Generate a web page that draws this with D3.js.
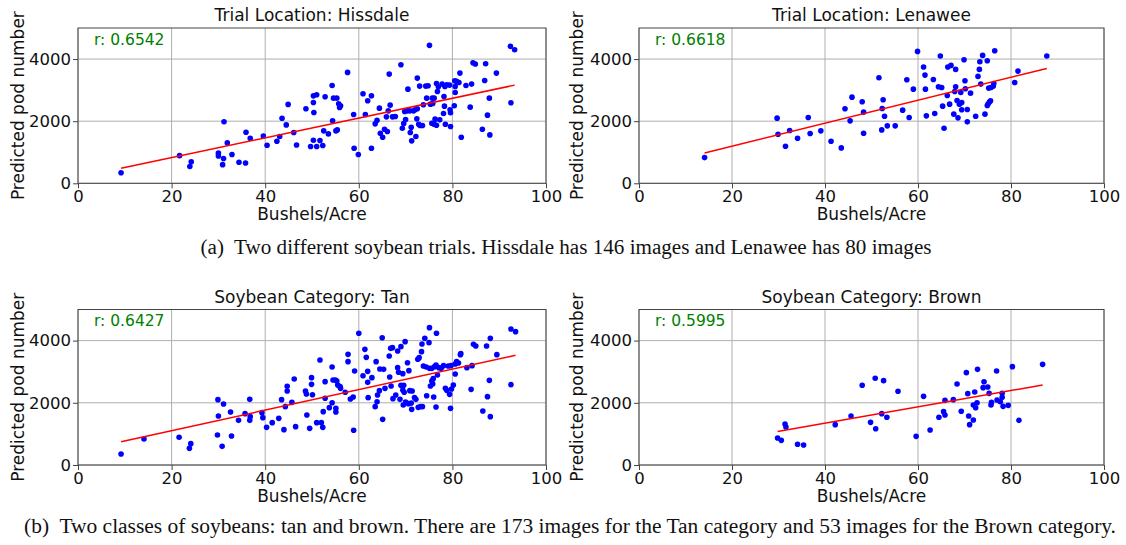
<!DOCTYPE html>
<html><head><meta charset="utf-8">
<script src="https://cdn.jsdelivr.net/npm/d3@7"></script>
<style>body{margin:0;background:#fff}svg{display:block}</style>
</head><body><svg id="c" width="1126" height="545"></svg>
<script>
// ---------- DATA ----------
const xTicks = [0, 20, 40, 60, 80, 100];
const yTicks = [0, 2000, 4000];
const titles = ["Trial Location: Hissdale", "Trial Location: Lenawee", "Soybean Category: Tan", "Soybean Category: Brown"];
const rValues = ["0.6542", "0.6618", "0.6427", "0.5995"];
const fitSlope = [31.83, 36.97, 32.93, 26.27];
const fitIntercept = [191, 457, 447, 292];
const captions = [
  "(a)  Two different soybean trials. Hissdale has 146 images and Lenawee has 80 images",
  "(b)  Two classes of soybeans: tan and brown. There are 173 images for the Tan category and 53 images for the Brown category."
];
const hissdale = [
[9.2,340],[21.7,890],[23.9,540],[24.2,690],[30.0,970],[30.0,880],[31.1,800],[30.9,600],[31.2,1980],[31.9,1300],
[32.9,925],[34.4,680],[35.8,655],[35.9,1645],[36.8,1450],[39.6,1525],[40.4,1225],[42.5,1355],[43.1,1505],[43.6,2095],
[44.5,1880],[44.9,2540],[46.1,1635],[46.7,1235],[48.7,2400],[49.7,1185],[50.3,2815],[50.3,2600],[50.4,2280],[50.3,1385],
[51.0,2849],[51.0,1183],[51.7,1376],[52.3,1215],[52.5,1688],[52.8,2785],[53.5,1591],[54.3,3151],[54.4,2011],[54.6,2742],
[55.3,2742],[55.1,1688],[55.4,1720],[55.7,2559],[56.1,2495],[55.9,2441],[57.6,3570],[58.9,2215],[59.0,1129],[59.9,925],
[60.9,2882],[61.4,2215],[61.9,2656],[62.7,1129],[62.7,2817],[63.5,1914],[63.9,2032],[64.4,2419],[64.6,1613],[65.1,1484],
[65.5,1742],[65.9,2140],[66.1,1667],[66.3,2333],[66.5,3516],[66.7,2516],[67.2,2140],[67.8,2151],[69.0,3817],[69.3,1774],
[69.6,1925],[69.8,2312],[70.0,2054],[70.3,2333],[70.5,3032],[70.9,2333],[71.0,1634],[71.2,1806],[71.3,1366],[71.7,2333],
[72.0,2366],[72.2,1505],[72.4,2075],[72.5,3387],[72.5,2398],[72.8,1903],[73.0,3129],[73.1,1860],[73.6,1860],[73.8,2527],
[74.3,3129],[74.5,2742],[74.8,3140],[75.1,4441],[75.3,2548],[75.6,1935],[75.7,2742],[75.8,2570],[76.1,2742],[76.1,1903],
[76.3,2065],[76.6,1871],[76.6,3215],[76.8,2957],[77.0,3108],[77.3,2043],[77.8,3194],[78.1,2247],[78.2,2796],[78.3,2484],
[78.4,3118],[78.5,1903],[78.8,3172],[79.4,3161],[79.5,2366],[79.6,1828],[79.6,2269],[80.4,2495],[80.5,3301],[80.6,3118],
[80.6,2925],[80.9,3280],[81.4,3247],[81.6,3548],[81.9,1484],[82.9,3151],[83.8,2452],[84.1,3194],[84.4,3882],[84.9,3839],
[86.4,1742],[86.9,3312],[87.1,3849],[87.5,2194],[87.9,2742],[88.0,1559],[89.4,3548],[92.4,4409],[92.5,2591],[93.3,4301]
];
const lenawee = [
[14.1,828],[29.7,2097],[29.9,1581],[31.5,1194],[32.4,1699],[34.1,1452],[36.4,2118],[36.8,1602],[39.1,1688],[41.3,1355],
[43.5,1140],[44.3,2398],[45.4,2011],[45.8,2774],[48.0,2624],[48.3,2290],[48.3,1613],[51.6,3398],[52.2,1720],[52.3,2409],
[52.5,2688],[52.8,2161],[53.4,1849],[55.1,1849],[56.7,2355],[57.6,3333],[58.1,2118],[59.0,3032],[59.9,4247],[61.2,3742],
[61.5,3484],[61.6,3032],[61.8,2172],[63.3,3344],[63.6,2247],[64.4,3108],[64.8,4097],[65.1,3086],[65.3,2484],[65.6,1774],
[66.3,2828],[66.4,3742],[66.8,2548],[67.1,3796],[67.7,2226],[67.9,2957],[68.1,3667],[68.1,3108],[68.4,2667],[68.6,2108],
[68.9,2548],[69.2,2925],[69.4,2602],[69.4,2366],[69.9,3978],[70.1,3301],[70.2,3043],[70.6,2376],[70.6,1978],[71.3,2903],
[72.4,2161],[72.9,3441],[73.2,3667],[73.3,3914],[73.5,3194],[73.9,4118],[74.4,2226],[74.9,3946],[74.9,2505],[75.1,2559],
[75.2,3065],[75.4,2624],[75.6,2656],[75.7,3086],[76.2,3129],[76.3,3215],[76.5,4269],[80.8,3247],[81.5,3613],[87.7,4097]
];
const tan = [
[9.2,354],[14.1,836],[21.6,890],[23.8,536],[24.1,686],[29.9,2101],[30.0,1576],[29.8,965],[30.8,600],[31.1,1961],
[32.6,1704],[32.8,932],[34.3,1436],[35.7,1651],[36.7,2111],[36.7,1436],[36.8,1554],[39.3,1683],[39.5,1522],[40.3,1211],
[41.5,1361],[42.9,1500],[43.5,2101],[44.0,1136],[44.3,1876],[44.7,2529],[44.7,2379],[45.7,2015],[46.2,2765],[46.5,1233],
[48.6,2379],[48.8,2283],[48.9,1608],[49.5,1179],[49.9,2808],[49.9,2594],[50.1,2261],
[51.0,1361],[51.7,3376],[52.0,1361],[52.3,1211],[52.4,1715],[52.8,2680],[52.8,2144],[53.7,1844],[54.3,3151],[54.3,2004],
[54.5,2733],[55.0,2733],[55.1,1704],[55.1,1822],[55.3,2701],[55.5,2572],[56.0,2519],[56.1,2465],[57.1,2337],[57.7,3558],
[57.7,3323],[58.2,2122],[58.8,2186],[58.9,1115],[59.1,3022],[60.0,4234],[60.9,2872],[61.3,3719],[61.6,3462],[61.9,3012],
[61.9,2658],[62.0,2165],[62.8,2808],[63.5,1876],[63.7,3323],[63.9,2036],[64.0,2251],[64.4,2390],[64.5,3087],[65.0,4094],
[65.1,1468],[65.3,3076],[65.6,2465],[66.5,3505],[66.6,2830],[66.8,3751],[66.9,2540],[67.2,3773],[67.3,2133],[67.9,2251],
[68.3,3130],[68.3,3666],[68.5,2980],[68.8,2111],[69.0,3805],[69.0,2562],[69.4,2937],[69.4,2412],[69.5,1929],[69.6,2562],
[69.7,2337],[69.9,3966],[70.0,2026],[70.4,3290],[70.6,1972],[70.7,3033],[70.9,2390],[71.2,1994],[71.3,1790],[71.4,2379],
[71.9,2165],[72.2,2111],[72.6,3398],[72.7,1854],[72.9,3451],[73.2,1876],[73.4,3644],[73.5,3891],[73.6,1876],[73.8,3183],
[74.1,4073],[74.4,3151],[74.5,2229],[75.0,3934],[75.1,4416],[75.1,3108],[75.3,2540],[75.6,2701],[75.6,3108],[75.8,2604],
[75.9,2776],[76.0,2186],[76.2,3162],[76.5,1865],[76.5,3215],[76.6,4234],[76.8,2894],[77.1,3130],[77.6,3108],[78.1,3194],
[78.5,2465],[78.8,2401],[79.1,3183],[79.4,2272],[79.6,1822],[79.7,3194],[79.8,2444],[80.2,2572],[80.6,3247],[80.6,2926],
[80.9,3323],[81.3,3280],[81.7,3548],[81.8,3580],[83.1,3130],[84.0,2433],[84.2,3194],[84.5,3880],[85.0,3826],[86.5,1736],
[87.3,3826],[87.5,2197],[87.9,2722],[88.1,4073],[88.1,1554],[89.5,3548],[92.5,2583],[92.5,4373],[93.5,4287]
];
const brown = [
[29.8,868],[30.6,793],[31.4,1318],[31.6,1222],[34.1,665],[35.4,643],[42.2,1297],[45.6,1576],[48.0,2562],[49.8,1372],
[50.8,2787],[50.9,1168],[52.2,1651],[52.6,2712],[53.3,1533],[55.7,2369],[59.6,922],[61.2,2208],[62.6,1125],[64.5,1533],
[65.5,1715],[65.8,1608],[65.8,2079],[67.6,2101],[68.4,2604],[69.3,1726],[70.4,2969],[70.7,2294],[70.9,1576],[71.1,1297],
[71.9,1447],[71.9,1929],[72.2,2347],[72.4,1843],[72.7,2004],[72.8,3076],[74.0,2487],[74.2,2679],[75.0,2508],[75.3,2304],
[75.7,1929],[75.8,2015],[76.9,3022],[77.0,2090],[77.7,2036],[78.1,2304],[78.1,2176],[78.3,1886],[79.4,1918],[80.3,3162],
[81.7,1436],[86.8,3237]
];
const datasets = [hissdale, lenawee, tan, brown];

// ---------- LAYOUT ----------
const svg = d3.select("#c");
const FONT = "DejaVu Sans, sans-serif";
const panels = [
  {l:78, r:546, t:28, b:183.3, ylabX:18},
  {l:639, r:1104, t:28, b:183.3, ylabX:577},
  {l:78, r:546, t:309.5, b:465, ylabX:18},
  {l:639, r:1104, t:309.5, b:465, ylabX:577}
];

panels.forEach((p, i) => {
  const data = datasets[i];
  const x = d3.scaleLinear().domain([0, 100]).range([p.l, p.r]);
  const y = d3.scaleLinear().domain([0, 5000]).range([p.b, p.t]);
  const g = svg.append("g");

  g.selectAll(".gx").data(xTicks).join("line")
    .attr("x1", d => x(d)).attr("x2", d => x(d)).attr("y1", p.t).attr("y2", p.b)
    .attr("stroke", "#b0b0b0").attr("stroke-width", 1);
  g.selectAll(".gy").data(yTicks).join("line")
    .attr("y1", d => y(d)).attr("y2", d => y(d)).attr("x1", p.l).attr("x2", p.r)
    .attr("stroke", "#b0b0b0").attr("stroke-width", 1);

  g.selectAll("circle").data(data).join("circle")
    .attr("cx", d => x(d[0])).attr("cy", d => y(d[1])).attr("r", 2.8).attr("fill", "#0000ff");

  const xs = data.map(d => d[0]);
  const x0 = d3.min(xs), x1 = d3.max(xs);
  g.append("line")
    .attr("x1", x(x0)).attr("y1", y(fitIntercept[i] + fitSlope[i] * x0))
    .attr("x2", x(x1)).attr("y2", y(fitIntercept[i] + fitSlope[i] * x1))
    .attr("stroke", "#ff0000").attr("stroke-width", 1.5);

  g.append("rect").attr("x", p.l).attr("y", p.t).attr("width", p.r - p.l).attr("height", p.b - p.t)
    .attr("fill", "none").attr("stroke", "#444").attr("stroke-width", 1);

  const ax = g.append("g").attr("transform", `translate(0,${p.b})`)
    .call(d3.axisBottom(x).tickValues(xTicks).tickSize(5).tickPadding(2).tickFormat(d3.format("d")));
  const ay = g.append("g").attr("transform", `translate(${p.l},0)`)
    .call(d3.axisLeft(y).tickValues(yTicks).tickSize(5).tickPadding(2).tickFormat(d3.format("d")));
  [ax, ay].forEach(a => {
    a.select(".domain").remove();
    a.selectAll("line").attr("stroke", "#444");
    a.selectAll("text").attr("font-family", FONT).attr("font-size", 16.5).attr("fill", "#111");
  });

  g.append("text").attr("x", (p.l + p.r) / 2).attr("y", p.t - 7)
    .attr("text-anchor", "middle").attr("font-family", FONT).attr("font-size", 17).attr("fill", "#111")
    .text(titles[i]);
  g.append("text").attr("x", p.l + 16).attr("y", p.t + 16.5)
    .attr("font-family", FONT).attr("font-size", 15.5).attr("fill", "#008000")
    .text("r: " + rValues[i]);
  g.append("text").attr("x", (p.l + p.r) / 2).attr("y", p.b + 37)
    .attr("text-anchor", "middle").attr("font-family", FONT).attr("font-size", 17).attr("fill", "#111")
    .text("Bushels/Acre");
  g.append("text").attr("transform", `translate(${p.ylabX + 6},${(p.t + p.b) / 2}) rotate(-90)`)
    .attr("text-anchor", "middle").attr("font-family", FONT).attr("font-size", 17).attr("fill", "#111")
    .text("Predicted pod number");
});

svg.append("text").attr("x", 200.5).attr("y", 254.3)
  .attr("font-family", "Liberation Serif, serif").attr("font-size", 20.8).attr("fill", "#111")
  .attr("textLength", 731).attr("lengthAdjust", "spacingAndGlyphs")
  .style("white-space", "pre").text(captions[0]);
svg.append("text").attr("x", 24).attr("y", 533.3)
  .attr("font-family", "Liberation Serif, serif").attr("font-size", 20.8).attr("fill", "#111")
  .attr("textLength", 1092).attr("lengthAdjust", "spacingAndGlyphs")
  .style("white-space", "pre").text(captions[1]);
</script></body></html>
